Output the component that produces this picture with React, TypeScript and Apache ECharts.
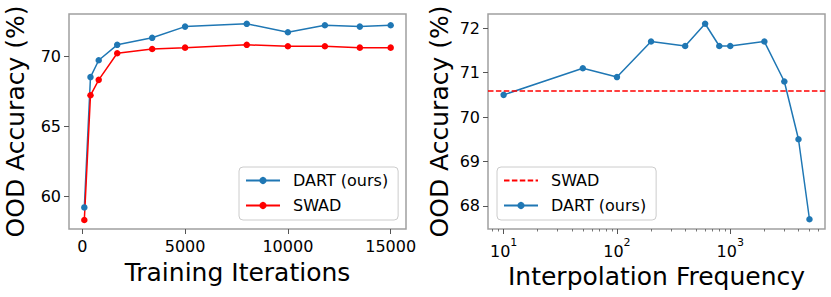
import React, { useEffect, useRef } from 'react';
import * as echarts from 'echarts';

// ---- Data ----
const iterations = [100, 400, 800, 1700, 3400, 5000, 8000, 10000, 11800, 13500, 15000];
const dartByIteration = [59.2, 68.5, 69.7, 70.8, 71.3, 72.1, 72.3, 71.7, 72.2, 72.1, 72.2];
const swadByIteration = [58.3, 67.2, 68.3, 70.2, 70.5, 70.6, 70.8, 70.7, 70.7, 70.6, 70.6];

const frequencies = [10, 50, 100, 200, 400, 600, 800, 1000, 2000, 3000, 4000, 5000];
const dartByFrequency = [70.5, 71.1, 70.9, 71.7, 71.6, 72.1, 71.6, 71.6, 71.7, 70.8, 69.5, 67.7];
const swadLevel = 70.6;

const leftXTicks = [0, 5000, 10000, 15000];
const leftYTicks = [60, 65, 70];
const rightXTicks = [10, 100, 1000];
const rightXMinorTicks = [8, 9, 20, 30, 40, 50, 60, 70, 80, 90, 200, 300, 400, 500, 600, 700, 800, 900, 2000, 3000, 4000, 5000, 6000];
const rightYTicks = [68, 69, 70, 71, 72];

const legendLabels: Record<string, string> = {
  dartIter: 'DART (ours)',
  swadIter: 'SWAD',
  dartFreq: 'DART (ours)',
  swadFreq: 'SWAD',
};

const FONT = 'DejaVu Sans';
const BLUE = '#1f77b4';
const RED = '#ff0000';
const SPINE = '#a0a0a0';
const TICK = '#555555';

export default function App() {
  const ref = useRef<HTMLDivElement>(null);

  useEffect(() => {
    if (!ref.current) return;
    const chart = echarts.init(ref.current, undefined, { renderer: 'svg' });
    const lg = Math.log10;

    const tickLabel = { fontSize: 16, color: '#000', fontFamily: FONT };
    const nameStyle = { fontSize: 25, color: '#000', fontFamily: FONT };

    const legendCommon = {
      orient: 'vertical' as const,
      itemWidth: 34,
      itemHeight: 9,
      itemGap: 6,
      padding: [4, 10, 5, 6],
      borderColor: '#cccccc',
      borderWidth: 1,
      borderRadius: 4,
      backgroundColor: 'rgba(255,255,255,0.8)',
      formatter: (n: string) => legendLabels[n] ?? n,
      textStyle: { fontSize: 16, color: '#000', fontFamily: FONT, padding: [0, 0, 0, 8], lineHeight: 19 },
      selectedMode: false,
    };

    chart.setOption({
      animation: false,
      textStyle: { fontFamily: FONT },
      grid: [
        { left: 69, top: 14, width: 337, height: 215, show: true, borderColor: SPINE, borderWidth: 1.5, backgroundColor: 'transparent' },
        { left: 488, top: 14, width: 337, height: 215, show: true, borderColor: SPINE, borderWidth: 1.5, backgroundColor: 'transparent' },
      ],
      xAxis: [
        {
          type: 'value', gridIndex: 0, position: 'bottom',
          min: -645, max: 15745,
          axisLine: { show: false, onZero: false },
          axisTick: { show: true, customValues: leftXTicks, length: 5, lineStyle: { color: TICK, width: 1 } },
          axisLabel: { customValues: leftXTicks, margin: 9, formatter: (v: number) => String(Math.round(v)), ...tickLabel },
          splitLine: { show: false },
          name: 'Training Iterations', nameLocation: 'middle', nameGap: 31, nameTextStyle: nameStyle,
        },
        {
          type: 'value', gridIndex: 1, position: 'bottom',
          min: lg(7.28), max: lg(6855),
          axisLine: { show: false, onZero: false },
          axisTick: { show: true, customValues: rightXTicks.map(lg), length: 5, lineStyle: { color: TICK, width: 1 } },
          axisLabel: {
            customValues: rightXTicks.map(lg), margin: 8,
            formatter: (v: number) => `{a|10}{b|${Math.round(v)}}`,
            rich: {
              a: { fontSize: 16, color: '#000', fontFamily: FONT, lineHeight: 22, verticalAlign: 'bottom' },
              b: { fontSize: 11, color: '#000', fontFamily: FONT, lineHeight: 12, verticalAlign: 'top' },
            },
          },
          splitLine: { show: false },
          name: 'Interpolation Frequency', nameLocation: 'middle', nameGap: 31, nameTextStyle: nameStyle,
        },
        {
          type: 'value', gridIndex: 1, position: 'bottom',
          min: lg(7.28), max: lg(6855),
          axisLine: { show: false, onZero: false },
          axisTick: { show: true, customValues: rightXMinorTicks.map(lg), length: 2.5, lineStyle: { color: TICK, width: 0.8 } },
          axisLabel: { show: false },
          splitLine: { show: false },
        },
      ],
      yAxis: [
        {
          type: 'value', gridIndex: 0, position: 'left',
          min: 57.66, max: 73.0,
          axisLine: { show: false, onZero: false },
          axisTick: { show: true, customValues: leftYTicks, length: 5, lineStyle: { color: TICK, width: 1 } },
          axisLabel: { customValues: leftYTicks, margin: 8, ...tickLabel },
          splitLine: { show: false },
          name: 'OOD Accuracy (%)', nameLocation: 'middle', nameGap: 41, nameTextStyle: nameStyle,
        },
        {
          type: 'value', gridIndex: 1, position: 'left',
          min: 67.48, max: 72.32,
          axisLine: { show: false, onZero: false },
          axisTick: { show: true, customValues: rightYTicks, length: 5, lineStyle: { color: TICK, width: 1 } },
          axisLabel: { customValues: rightYTicks, margin: 8, ...tickLabel },
          splitLine: { show: false },
          name: 'OOD Accuracy (%)', nameLocation: 'middle', nameGap: 36, nameTextStyle: nameStyle,
        },
      ],
      legend: [
        { ...legendCommon, data: ['dartIter', 'swadIter'], left: 239, top: 167 },
        {
          ...legendCommon,
          data: [
            { name: 'swadFreq', itemStyle: { opacity: 0, color: 'rgba(0,0,0,0)', borderWidth: 0 } },
            'dartFreq',
          ],
          left: 497, top: 167,
        },
      ],
      series: [
        {
          name: 'dartIter', type: 'line', xAxisIndex: 0, yAxisIndex: 0,
          data: iterations.map((x, i) => [x, dartByIteration[i]]),
          symbol: 'circle', symbolSize: 6.5, showSymbol: true,
          lineStyle: { color: BLUE, width: 1.5 }, itemStyle: { color: BLUE },
        },
        {
          name: 'swadIter', type: 'line', xAxisIndex: 0, yAxisIndex: 0,
          data: iterations.map((x, i) => [x, swadByIteration[i]]),
          symbol: 'circle', symbolSize: 6.5, showSymbol: true,
          lineStyle: { color: RED, width: 1.5 }, itemStyle: { color: RED },
        },
        {
          name: 'swadFreq', type: 'line', xAxisIndex: 1, yAxisIndex: 1,
          data: [],
          symbol: 'none',
          lineStyle: { color: RED, width: 1.5, type: [5.5, 2.4] }, itemStyle: { color: RED },
          markLine: {
            silent: true, symbol: ['none', 'none'], label: { show: false },
            lineStyle: { color: RED, width: 1.5, type: [5.5, 2.4] },
            data: [{ yAxis: swadLevel }],
          },
        },
        {
          name: 'dartFreq', type: 'line', xAxisIndex: 1, yAxisIndex: 1,
          data: frequencies.map((f, i) => [lg(f), dartByFrequency[i]]),
          symbol: 'circle', symbolSize: 6.5, showSymbol: true,
          lineStyle: { color: BLUE, width: 1.5 }, itemStyle: { color: BLUE },
        },
      ],
    });

    return () => chart.dispose();
  }, []);

  return (
    <div
      ref={ref}
      style={{ position: 'fixed', left: 0, top: 0, width: 831, height: 297, background: '#fff' }}
    />
  );
}
